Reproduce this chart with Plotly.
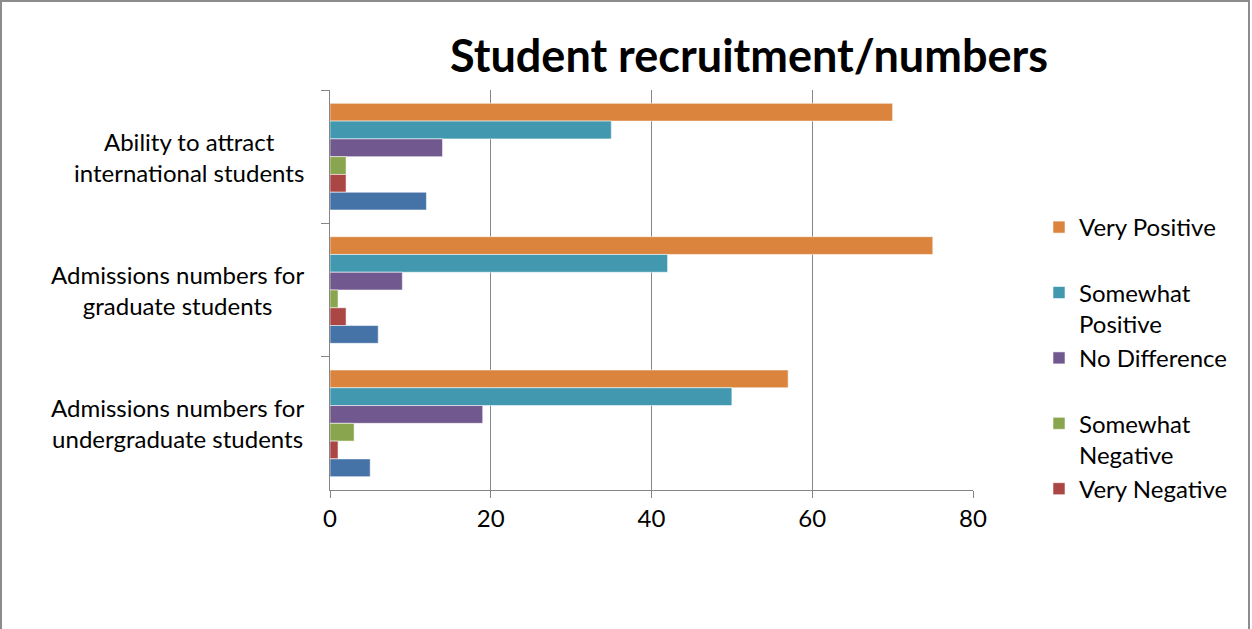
import plotly.graph_objects as go

categories = ["Ability to attract<br>international students",
              "Admissions numbers for<br>graduate students",
              "Admissions numbers for<br>undergraduate students"]
series_names = ["Very Positive", "Somewhat<br>Positive", "No Difference",
                 "Somewhat<br>Negative", "Very Negative", "Don't Know"]
very_positive = [70, 75, 57]
somewhat_positive = [35, 42, 50]
no_difference = [14, 9, 19]
somewhat_negative = [2, 1, 3]
very_negative = [2, 2, 1]
dont_know = [12, 6, 5]
x_ticks = [0, 20, 40, 60, 80]

colors = ["#DB843D", "#4198AF", "#71588F", "#89A54E", "#AA4643", "#4572A7"]
values = [very_positive, somewhat_positive, no_difference,
          somewhat_negative, very_negative, dont_know]

FONT = "Lato"
FS = 24
W, H = 1252, 629
L, R, T, B = 330, 279, 90, 139
pw, ph = W - L - R, H - T - B

fig = go.Figure()
for i, (name, vals, col) in enumerate(zip(series_names, values, colors)):
    label = name if "<br>" in name else name + "<br> "
    fig.add_trace(go.Bar(
        y=categories, x=vals, name=label, orientation="h",
        marker=dict(color=col, line=dict(color="rgba(255,255,255,0.55)", width=1)),
        showlegend=(i < 5),
    ))

for cat in categories:
    fig.add_annotation(x=0, xref="paper", y=cat, yref="y", text=cat,
                       showarrow=False, xanchor="right", align="center",
                       xshift=-24, font=dict(family=FONT, size=FS, color="#000"))

def px(x):
    return (x - L) / pw

def py(y):
    return 1 - (y - T) / ph

fig.add_shape(type="rect", xref="paper", yref="paper",
              x0=px(1), x1=px(1249), y0=py(700), y1=py(1),
              line=dict(color="#8c8c8c", width=2), layer="below")

fig.update_layout(
    width=W, height=H,
    margin=dict(l=L, r=R, t=T, b=B),
    paper_bgcolor="white", plot_bgcolor="white",
    barmode="group", bargap=0.2, bargroupgap=0,
    title=dict(text="<b>Student recruitment/numbers</b>", x=749 / W, xanchor="center",
               y=1 - 56 / H, yanchor="middle",
               font=dict(family=FONT, size=45, color="#000")),
    font=dict(family=FONT, size=FS, color="#000"),
    legend=dict(x=px(1039), xanchor="left", y=py(205), yanchor="top",
                valign="top", font=dict(family=FONT, size=FS, color="#000"),
                bgcolor="rgba(0,0,0,0)", tracegroupgap=0),
    xaxis=dict(range=[0, 80], tickvals=x_ticks, ticks="outside", ticklen=7,
               tickcolor="#868686", showgrid=True, gridcolor="#868686", gridwidth=1,
               showline=True, linecolor="#868686", linewidth=1, zeroline=False,
               tickfont=dict(family=FONT, size=FS, color="#000"), fixedrange=True),
    yaxis=dict(autorange="reversed", tickson="boundaries", ticks="outside", ticklen=8,
               tickcolor="#868686", showticklabels=False, showline=True,
               linecolor="#868686", linewidth=1, showgrid=False),
)

fig.write_html("out.html", config={"displayModeBar": False},
               post_script="document.body.style.margin='0px';")
